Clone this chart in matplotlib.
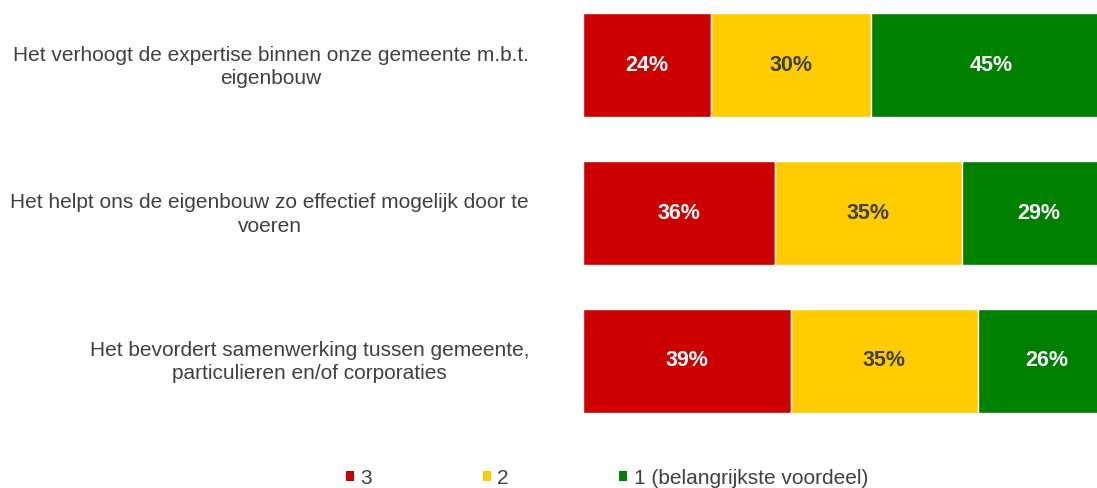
import matplotlib

matplotlib.use("Agg")
import matplotlib.pyplot as plt
from matplotlib.patches import Patch
from matplotlib.transforms import blended_transform_factory

plt.rcParams["font.family"] = ["Liberation Sans", "DejaVu Sans"]

# data (percent of respondents per rank)
statements = [
    "Het verhoogt de expertise binnen onze gemeente m.b.t.\neigenbouw",
    "Het helpt ons de eigenbouw zo effectief mogelijk door te\nvoeren",
    "Het bevordert samenwerking tussen gemeente,\nparticulieren en/of corporaties",
]
series_names = ["3", "2", "1 (belangrijkste voordeel)"]
rank3 = [24, 36, 39]
rank2 = [30, 35, 35]
rank1 = [45, 29, 26]

colors = ["#CC0000", "#FFCC00", "#008000"]
label_colors = ["white", "#404040", "white"]
text_color = "#404040"

W, H = 1097, 488
fig = plt.figure(figsize=(W / 100, H / 100), dpi=100)
# the bars run past the right edge of the image, so the axes is clipped there
ax = fig.add_axes([583 / W, (H - 425) / H, (W - 583) / W, 425 / H])
ax.axis("off")

ypos = list(range(len(statements)))
left = [0] * len(statements)
for values, color, lc in zip([rank3, rank2, rank1], colors, label_colors):
    bars = ax.barh(ypos, values, left=left, height=0.705, color=color,
                   edgecolor="white", linewidth=1.0)
    for bar, v in zip(bars, values):
        ax.text(bar.get_x() + bar.get_width() / 2, bar.get_y() + bar.get_height() / 2,
                f"{v}%", ha="center", va="center", color=lc,
                fontsize=15.5, fontweight="bold")
    left = [l + v for l, v in zip(left, values)]

ax.set_xlim(0, 96.4)
ax.set_ylim(2.437, -0.444)

trans = blended_transform_factory(fig.transFigure, ax.transData)
for y, s in zip(ypos, statements):
    ax.text(529 / W, y + 0.01, s, transform=trans, ha="right", va="center",
            multialignment="center", fontsize=15, color=text_color, linespacing=1.32)

handles = [Patch(facecolor=c, edgecolor="none") for c in colors]
fig.legend(handles, series_names, loc="center", bbox_to_anchor=(607 / W, 1 - 478 / H),
           ncol=3, frameon=False, fontsize=15, labelcolor=text_color,
           handlelength=0.4, handleheight=0.4, handletextpad=0.3, columnspacing=5.3)

fig.savefig("out.png", dpi=100)
